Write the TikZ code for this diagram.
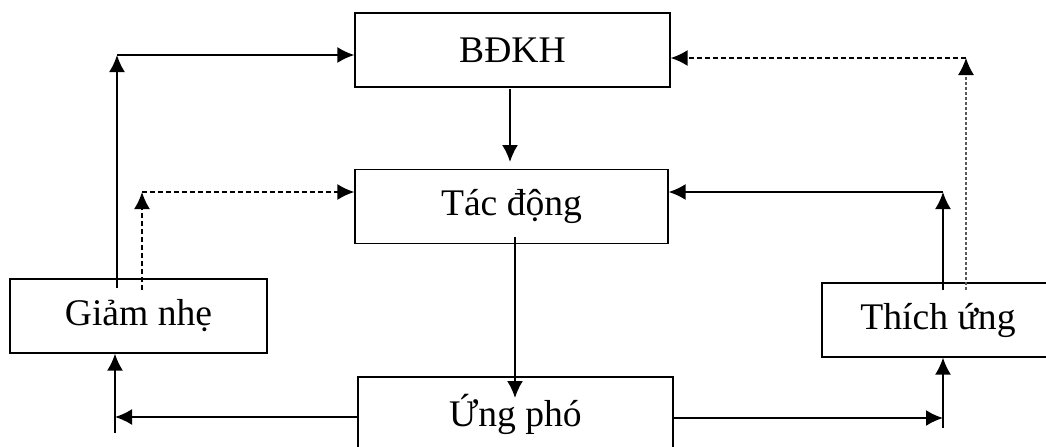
\documentclass[tikz,border=0pt]{standalone}
\usepackage{fontspec}
\setmainfont{Liberation Serif}
\usetikzlibrary{arrows.meta}

\begin{document}
\begin{tikzpicture}[x=0.5pt, y=-0.5pt, >={Latex[length=8.5pt,width=8pt]},
  box/.style={draw, line width=0.6pt, inner sep=0pt, minimum height=37pt,
    font=\fontsize{18.8}{22}\selectfont},
  link/.style={->, line width=1pt},
  dlink/.style={->, line width=1pt, dash pattern=on 2.5pt off 1.5pt}]

  \clip (0,0) rectangle (1046,446);
  \fill[white] (0,0) rectangle (1046,446);

  % Boxes

  \node[box, minimum width=157.5pt] (bdkh) at (512.5,50) {BĐKH};
  \node[box, minimum width=156.5pt] (tacdong) at (511.5,206.5) {Tác động};
  \node[box, minimum width=128.5pt] (giamnhe) at (138.5,316) {Giảm nhẹ};
  \node[box, minimum width=116pt] (thichung) at (938,320) {Thích ứng};
  \node[box, minimum width=157.5pt] (ungpho) at (515.5,414) {Ứng phó};

  % Corners and free ends

  \coordinate (g1) at (117,288);
  \coordinate (g2) at (117,55);
  \coordinate (g3) at (142,290);
  \coordinate (g4) at (142,192);
  \coordinate (m1) at (510,89);
  \coordinate (m2) at (510,162);
  \coordinate (m3) at (515,237);
  \coordinate (m4) at (515,398);
  \coordinate (l1) at (115,417);
  \coordinate (l2) at (115,433);
  \coordinate (r1) at (943,418);
  \coordinate (r2) at (943,428);
  \coordinate (r3) at (943,290);
  \coordinate (r4) at (943,192);
  \coordinate (t1) at (966,290);
  \coordinate (t2) at (966,58);

  % Giam nhe side

  \draw[link] (g1) -- (g2);
  \draw[link] (g2) -- (bdkh.west |- g2);
  \draw[dlink] (g3) -- (g4);
  \draw[dlink] (g4) -- (tacdong.west |- g4);

  % Middle

  \draw[link] (m1) -- (m2);
  \draw[link] (m3) -- (m4);

  % Ung pho outputs

  \draw[link] (ungpho.west |- l1) -- (l1);
  \draw[link] (l2) -- (giamnhe.south -| l2);
  \draw[link] (ungpho.east |- r1) -- (r1);
  \draw[link] (r2) -- (thichung.south -| r2);

  % Thich ung side

  \draw[link] (r3) -- (r4);
  \draw[link] (r4) -- (tacdong.east |- r4);
  \draw[-{Latex[length=8.5pt,width=8pt,black]}, line width=0.7pt, gray!70!black,
    dash pattern=on 1.5pt off 1pt] (t1) -- (t2);
  \draw[dlink] (t2) -- (bdkh.east |- t2);

\end{tikzpicture}
\end{document}
